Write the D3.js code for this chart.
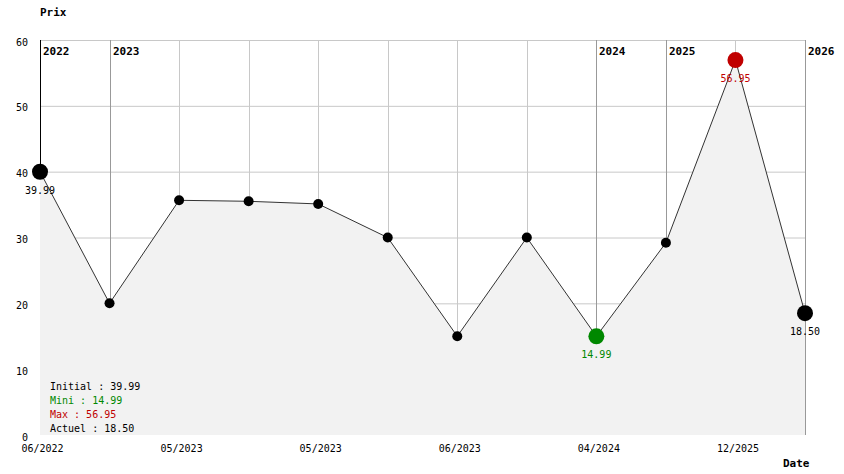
<!DOCTYPE html>
<html>
<head>
<meta charset="utf-8">
<script src="https://cdn.jsdelivr.net/npm/d3@7"></script>
<style>
body { margin: 0; background: #fff; }
svg text { font-family: "DejaVu Sans Mono", monospace; font-size: 10px; }
.bold { font-weight: bold; font-size: 11px; }
</style>
</head>
<body>
<div id="chart"></div>
<script>
// price history
var dates = ["06/2022","02/2023","05/2023","05/2023","05/2023","06/2023","06/2023","11/2023","04/2024","06/2025","12/2025","01/2026"];
var prices = [39.99, 20.00, 35.65, 35.50, 35.10, 29.99, 15.00, 29.99, 14.99, 29.20, 56.95, 18.50];
var yTicks = [0, 10, 20, 30, 40, 50, 60];
var legend = [
  {label: "Initial", value: "39.99", color: "#000"},
  {label: "Mini", value: "14.99", color: "#008800"},
  {label: "Max", value: "56.95", color: "#c00000"},
  {label: "Actuel", value: "18.50", color: "#000"}
];

(function () {
var width = 844, height = 474;
var left = 40, right = 805, top = 40, bottom = 435;

var svg = d3.select("#chart").append("svg")
  .attr("width", width)
  .attr("height", height);

var data = prices.map(function (p, i) {
  return {i: i, price: p, date: dates[i], year: dates[i].split("/")[1]};
});

var x = d3.scalePoint().domain(data.map(function (d) { return d.i; })).range([left, right]);
var y = d3.scaleLinear().domain([0, 60]).range([bottom, top]);

var minIdx = 8, maxIdx = 10, lastIdx = data.length - 1;

// horizontal grid
svg.selectAll(".hgrid")
  .data(yTicks.filter(function (t) { return t > 0; }))
  .enter().append("line")
  .attr("x1", left).attr("x2", right)
  .attr("y1", function (d) { return y(d) + 0.5; })
  .attr("y2", function (d) { return y(d) + 0.5; })
  .attr("stroke", "#c8c8c8");

// vertical grid, darker where the year changes
var isYear = function (d) { return d.i === 0 || d.year !== data[d.i - 1].year; };
svg.selectAll(".vgrid")
  .data(data)
  .enter().append("line")
  .attr("x1", function (d) { return Math.round(x(d.i)) + 0.5; })
  .attr("x2", function (d) { return Math.round(x(d.i)) + 0.5; })
  .attr("y1", top).attr("y2", bottom)
  .attr("stroke", function (d) {
    if (d.i === 0) return "#000";
    return isYear(d) ? "#999" : "#c8c8c8";
  });

// area under the line
var area = d3.area()
  .x(function (d) { return x(d.i); })
  .y0(bottom)
  .y1(function (d) { return y(d.price); });
svg.append("path").datum(data).attr("d", area).attr("fill", "#f2f2f2");

var line = d3.line()
  .x(function (d) { return x(d.i); })
  .y(function (d) { return y(d.price); });
svg.append("path").datum(data).attr("d", line)
  .attr("fill", "none").attr("stroke", "#333").attr("stroke-width", 1);

// year labels
svg.selectAll(".year")
  .data(data.filter(isYear))
  .enter().append("text")
  .attr("class", "bold")
  .attr("x", function (d) { return Math.round(x(d.i)) + 3; })
  .attr("y", 55)
  .text(function (d) { return d.year; });

// y axis
var yAxis = svg.append("g")
  .attr("transform", "translate(" + left + ",0)")
  .call(d3.axisLeft(y).tickValues(yTicks).tickSize(0).tickPadding(12));
yAxis.select(".domain").remove();
yAxis.selectAll("text").attr("font-family", null).attr("font-size", null).attr("dy", "0.5em");

// x axis
var xAxis = svg.append("g")
  .attr("transform", "translate(2," + (bottom + 12) + ")")
  .call(d3.axisBottom(x)
    .tickValues(data.filter(function (d) { return d.i % 2 === 0; }).map(function (d) { return d.i; }))
    .tickFormat(function (i) { return dates[i]; })
    .tickSize(0).tickPadding(0));
xAxis.select(".domain").remove();
xAxis.selectAll("text").attr("font-family", null).attr("font-size", null).attr("dy", "0.5em");

// points
var big = function (d) { return d.i === 0 || d.i === minIdx || d.i === maxIdx || d.i === lastIdx; };
var colorOf = function (d) {
  if (d.i === minIdx) return "#008800";
  if (d.i === maxIdx) return "#c00000";
  return "#000";
};
svg.selectAll(".pt")
  .data(data)
  .enter().append("circle")
  .attr("cx", function (d) { return x(d.i); })
  .attr("cy", function (d) { return y(d.price); })
  .attr("r", function (d) { return big(d) ? 8 : 5; })
  .attr("fill", colorOf);

svg.selectAll(".ptlabel")
  .data(data.filter(big))
  .enter().append("text")
  .attr("text-anchor", "middle")
  .attr("x", function (d) { return x(d.i); })
  .attr("y", function (d) { return y(d.price) + 22; })
  .attr("fill", colorOf)
  .text(function (d) { return d.price.toFixed(2); });

// legend
svg.selectAll(".legend")
  .data(legend)
  .enter().append("text")
  .attr("x", 50)
  .attr("y", function (d, i) { return 389.5 + i * 14; })
  .attr("fill", function (d) { return d.color; })
  .attr("xml:space", "preserve")
  .text(function (d) { return d.label + " : " + d.value; });

svg.append("text").attr("class", "bold").attr("x", 40).attr("y", 16).text("Prix");
svg.append("text").attr("class", "bold").attr("x", 783).attr("y", 467).text("Date");
})();
</script>
</body>
</html>
